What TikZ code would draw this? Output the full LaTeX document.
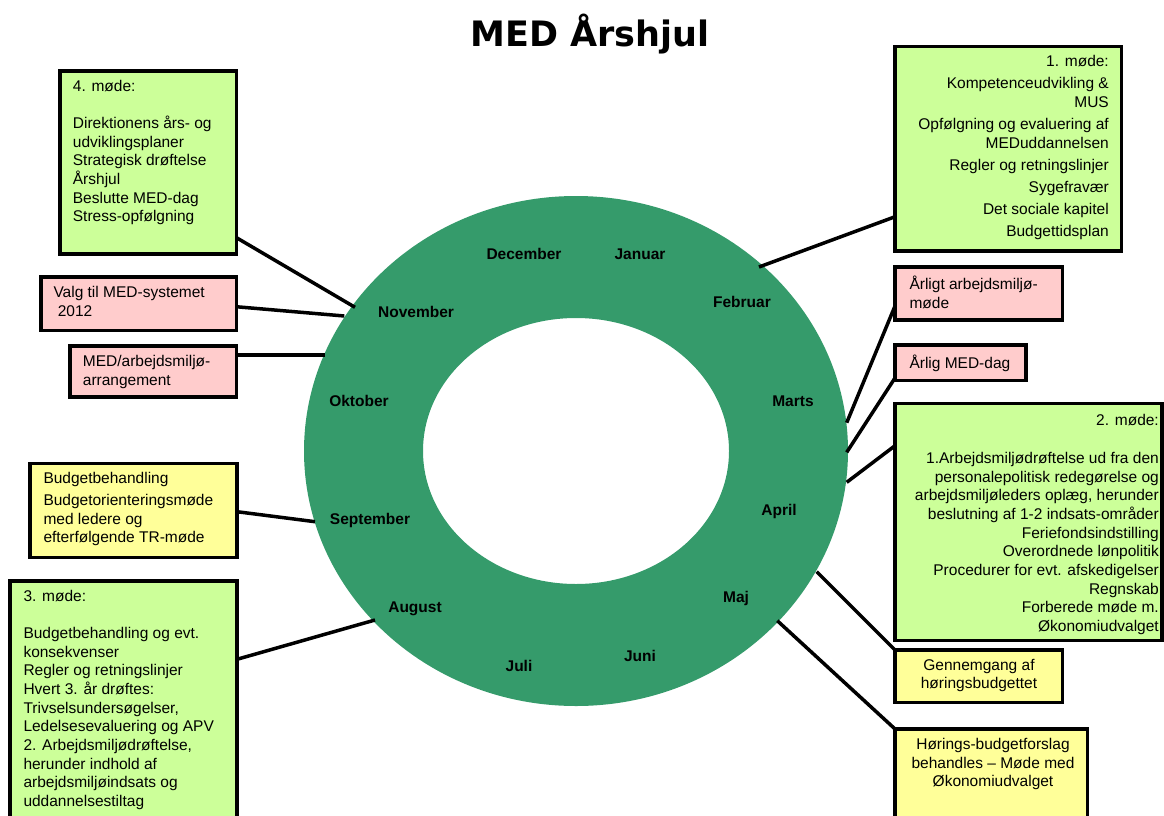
\documentclass[tikz,border=0pt]{standalone}
\usepackage{fontspec}
\setmainfont{Liberation Sans}
\newfontfamily\titlefont{DejaVu Sans}
\usepackage{tikz}

\definecolor{ringgreen}{RGB}{53,155,107}
\definecolor{mgreen}{RGB}{204,255,153}
\definecolor{mpink}{RGB}{255,204,204}
\definecolor{myellow}{RGB}{255,255,153}
\newcommand{\bodyfont}{\fontsize{15.5}{18.7}\selectfont}

\begin{document}
\begin{tikzpicture}[x=1pt,y=-1pt,
	box/.style={draw=black, line width=3.8pt, outer sep=0pt, inner sep=0pt, anchor=north west},
	txt/.style={inner sep=0pt, font=\bodyfont, execute at begin node=\strut},
	month/.style={anchor=base, inner sep=0pt, font=\bodyfont\bfseries},
	link/.style={line width=3.5pt}]
	\clip (0,0) rectangle (1164,816);
	% Title %
	\node [anchor=base, font=\titlefont\bfseries\fontsize{35}{40}\selectfont] (title) at (590,47) {MED Årshjul};
	% Wheel %
	\fill [ringgreen, even odd rule] (576,451) ellipse [x radius=272, y radius=255]
		(576,451) ellipse [x radius=153, y radius=133];
	\node [month] (dec) at (524,259) {December};
	\node [month] (jan) at (640,259) {Januar};
	\node [month] (feb) at (742,307.7) {Februar};
	\node [month] (mar) at (793,406.7) {Marts};
	\node [month] (apr) at (779,515) {April};
	\node [month] (maj) at (736,602.7) {Maj};
	\node [month] (jun) at (640,661.7) {Juni};
	\node [month] (jul) at (519,671.7) {Juli};
	\node [month] (aug) at (415,612.7) {August};
	\node [month] (sep) at (370,524.3) {September};
	\node [month] (okt) at (359,406.7) {Oktober};
	\node [month] (nov) at (416,317.7) {November};
	% Points on the rim %
	\coordinate (rimmode4) at (355,307.3);
	\coordinate (rimvalg) at (344.3,316);
	\coordinate (rimarr) at (325,355);
	\coordinate (rimmode1) at (759,267);
	\coordinate (rimaarlig) at (846.7,422.7);
	\coordinate (rimdag) at (846.7,452.3);
	\coordinate (rimmode2) at (846.7,482.3);
	\coordinate (rimgennem) at (816.7,571.7);
	\coordinate (rimhoring) at (777.3,620.7);
	\coordinate (rimbudget) at (315,521.7);
	\coordinate (rimmode3) at (375,620);
	% Left boxes %
	\node [box, fill=mgreen, minimum width=176.5, minimum height=183] (mode4) at (60,71) {};
	\node [box, fill=mpink, minimum width=195.5, minimum height=53.5] (valg) at (41,277) {};
	\node [box, fill=mpink, minimum width=166.5, minimum height=51] (arr) at (70,346) {};
	\node [box, fill=myellow, minimum width=207, minimum height=94] (budget) at (30,463.5) {};
	\node [box, fill=mgreen, minimum width=227, minimum height=269] (mode3) at (10,581) {};
	% Right boxes %
	\node [box, fill=mgreen, minimum width=226.5, minimum height=204.5] (mode1) at (895,46.5) {};
	\node [box, fill=mpink, minimum width=167.5, minimum height=53] (aarlig) at (895,267) {};
	\node [box, fill=mpink, minimum width=131, minimum height=35.5] (dag) at (895,345) {};
	\node [box, fill=mgreen, minimum width=267, minimum height=237] (mode2) at (895,403.5) {};
	\node [box, fill=myellow, minimum width=167.5, minimum height=52.5] (gennem) at (895,650) {};
	\node [box, fill=myellow, minimum width=192.5, minimum height=121] (horing) at (895,729) {};
	% Texts %
	\node [txt, anchor=north west, align=left] (tmode4) at (72.7,79.6) {4. møde:\\[18.7pt]
		Direktionens års- og\\ udviklingsplaner\\ Strategisk drøftelse\\ Årshjul\\
		Beslutte MED-dag\\ Stress-opfølgning};
	\node [txt, anchor=north west, align=left] (tvalg) at (53.3,286.2) {Valg til MED-systemet\\ \hspace{4.3pt}2012};
	\node [txt, anchor=north west, align=left] (tarr) at (82.7,355.2) {MED/arbejdsmiljø-\\ arrangement};
	\node [txt, anchor=north west, align=left] (tbudget) at (43.3,471.9) {Budgetbehandling\\[3.5pt]
		Budgetorienteringsmøde\\ med ledere og\\ efterfølgende TR-møde};
	\node [txt, anchor=north west, align=left] (tmode3) at (23.3,589.6) {3. møde:\\[18.6pt]
		Budgetbehandling og evt.\\ konsekvenser\\ Regler og retningslinjer\\
		Hvert 3. år drøftes:\\ Trivselsundersøgelser,\\ Ledelsesevaluering og APV\\
		2. Arbejdsmiljødrøftelse,\\ herunder indhold af\\ arbejdsmiljøindsats og\\ uddannelsestiltag};
	\node [txt, anchor=north east, align=right] (tmode1) at (1109,55.2) {1. møde:\\[3.3pt]
		Kompetenceudvikling \&\\ MUS\\[3.3pt] Opfølgning og evaluering af\\ MEDuddannelsen\\[3.3pt]
		Regler og retningslinjer\\[3.3pt] Sygefravær\\[3.3pt] Det sociale kapitel\\[3.3pt] Budgettidsplan};
	\node [txt, anchor=north west, align=left] (taarlig) at (909.3,276.2) {Årligt arbejdsmiljø-\\ møde};
	\node [txt, anchor=north west, align=left] (tdag) at (909.3,355.2) {Årlig MED-dag};
	\node [txt, anchor=north east, align=right] (tmode2) at (1159,413.6) {2. møde:\\[19.6pt]
		1.Arbejdsmiljødrøftelse ud fra den\\ personalepolitisk redegørelse og\\
		arbejdsmiljøleders oplæg, herunder\\ beslutning af 1-2 indsats-områder\\
		Feriefondsindstilling\\ Overordnede lønpolitik\\ Procedurer for evt. afskedigelser\\
		Regnskab\\ Forberede møde m.\\ Økonomiudvalget};
	\node [txt, anchor=north, align=center] (tgennem) at (979,658.6) {Gennemgang af\\ høringsbudgettet};
	\node [txt, anchor=north, align=center] (thoring) at (993,737.9) {Hørings-budgetforslag\\
		behandles – Møde med\\ Økonomiudvalget};
	% Connectors %
	\draw [link] ([yshift=-75.2pt]mode4.east) -- (rimmode4);
	\draw [link] ([yshift=-3pt]valg.east) -- (rimvalg);
	\draw [link] ([yshift=16.5pt]arr.east) -- (rimarr);
	\draw [link] ([yshift=-1.2pt]budget.east) -- (rimbudget);
	\draw [link] ([yshift=56.2pt]mode3.east) -- (rimmode3);
	\draw [link] ([yshift=-68pt]mode1.west) -- (rimmode1);
	\draw [link] ([yshift=-12.5pt]aarlig.west) -- (rimaarlig);
	\draw [link] ([yshift=-15.2pt]dag.west) -- (rimdag);
	\draw [link] ([yshift=76.3pt]mode2.west) -- (rimmode2);
	\draw [link] (gennem.north west) -- (rimgennem);
	\draw [link] (horing.north west) -- (rimhoring);
\end{tikzpicture}
\end{document}
